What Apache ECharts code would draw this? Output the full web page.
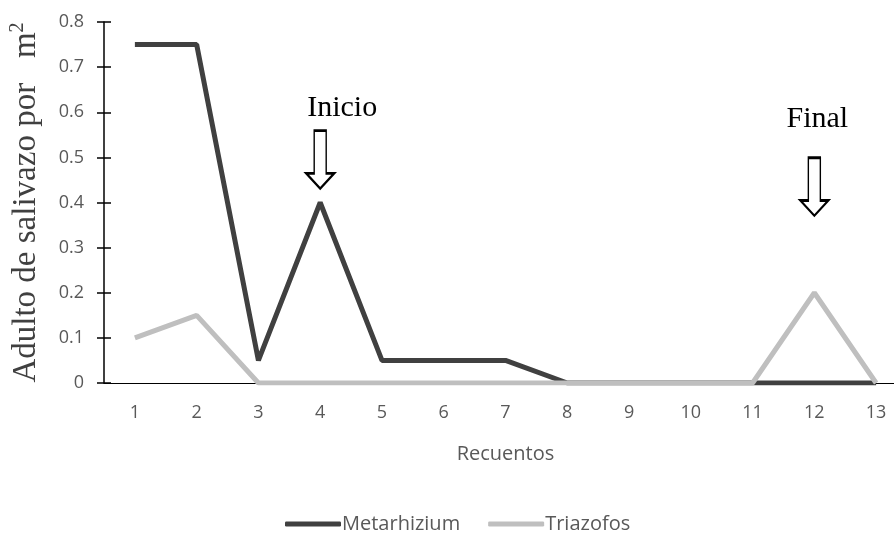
<!DOCTYPE html>
<html><head><meta charset="utf-8">
<script src="https://cdn.jsdelivr.net/npm/echarts@6/dist/echarts.min.js"></script>
<style>html,body{margin:0;padding:0;background:#fff;overflow:hidden}#c{width:910px;height:533px}</style>
</head><body><div id="c"></div>
<script>
const categories = ['1','2','3','4','5','6','7','8','9','10','11','12','13'];
const metarhizium = [0.75,0.75,0.05,0.4,0.05,0.05,0.05,0,0,0,0,0,0];
const triazofos = [0.1,0.15,0,0,0,0,0,0,0,0,0,0.2,0];
const annotations = [
  {name:'Inicio', cat:'4', arrowY:0.495, textY:0.61, textDx:22},
  {name:'Final', cat:'12', arrowY:0.435, textY:0.585, textDx:3}
];
const arrowPath = 'path://M8,0 L20,0 L20,42 L28,42 L14,57 L0,42 L8,42 Z';
const chart = echarts.init(document.getElementById('c'));
const sans = '"Open Sans", "Liberation Sans", sans-serif';
const serif = '"Liberation Serif", "DejaVu Serif", serif';
const mpData = [];
annotations.forEach(a => {
  mpData.push({coord:[a.cat, a.arrowY], symbol:arrowPath, symbolSize:[28,58],
    itemStyle:{color:'#fff', borderColor:'#000', borderWidth:2}, label:{show:false}});
  mpData.push({coord:[a.cat, a.textY], symbol:'rect', symbolSize:0, name:a.name,
    label:{show:true, formatter:a.name, position:'inside', offset:[a.textDx,0], color:'#000', fontFamily:serif, fontSize:30}});
});
chart.setOption({
  animation:false,
  grid:{left:104, right:3, top:22, bottom:150, containLabel:false},
  legend:{top:509, left:280, itemWidth:56, itemHeight:5, itemGap:28, icon:'roundRect',
    textStyle:{color:'#595959', fontFamily:sans, fontSize:20, padding:[0,0,0,-4]},
    data:['Metarhizium','Triazofos']},
  xAxis:{type:'category', data:categories, boundaryGap:true,
    axisLine:{lineStyle:{color:'#000', width:1}}, axisTick:{show:false},
    axisLabel:{color:'#595959', fontFamily:sans, fontSize:18, margin:21},
    name:'Recuentos', nameLocation:'middle', nameGap:61,
    nameTextStyle:{color:'#595959', fontFamily:sans, fontSize:20}},
  yAxis:[{type:'value', min:0, max:0.8, interval:0.1,
    axisLine:{show:true, lineStyle:{color:'#000', width:1.5}},
    axisTick:{show:true, length:7, lineStyle:{color:'#000', width:1.5}},
    splitLine:{show:false},
    axisLabel:{color:'#595959', fontFamily:sans, fontSize:18, margin:20,
      formatter:v => String(Math.round(v*10)/10)},
    name:'Adulto de salivazo por   m{sup|2}', nameLocation:'middle', nameGap:60, nameRotate:90,
    nameTextStyle:{color:'#404040', fontFamily:serif, fontSize:33,
      rich:{sup:{fontFamily:serif, fontSize:20, color:'#404040', verticalAlign:'top', padding:[0,0,16,0]}}}},
   {type:'value', min:0, max:0.8, interval:0.1, position:'left',
    axisLine:{show:false}, axisLabel:{show:false}, splitLine:{show:false},
    axisTick:{show:true, inside:true, length:7, lineStyle:{color:'#000', width:1.5}}}],
  series:[
    {name:'Metarhizium', type:'line', data:metarhizium, symbol:'none', z:3,
     lineStyle:{color:'#404040', width:5}, itemStyle:{color:'#404040'},
     markPoint:{data:mpData, silent:true}},
    {name:'Triazofos', type:'line', data:triazofos, symbol:'none', z:4,
     lineStyle:{color:'#bfbfbf', width:5}, itemStyle:{color:'#bfbfbf'}}
  ]
});
</script></body></html>
